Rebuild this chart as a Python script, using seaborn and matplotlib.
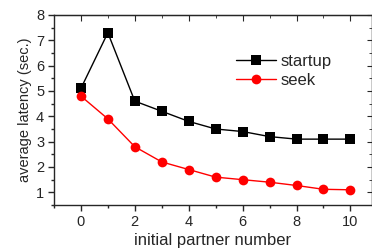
import pandas as pd
import seaborn as sns
import matplotlib.pyplot as plt
from matplotlib.ticker import MultipleLocator

partners = [0, 1, 2, 3, 4, 5, 6, 7, 8, 9, 10]
startup = [5.1, 7.3, 4.6, 4.2, 3.8, 3.5, 3.4, 3.2, 3.1, 3.1, 3.1]
seek = [4.8, 3.9, 2.8, 2.2, 1.9, 1.6, 1.5, 1.4, 1.27, 1.12, 1.1]

df = pd.DataFrame({
    "partners": partners * 2,
    "latency": startup + seek,
    "series": ["startup"] * len(partners) + ["seek"] * len(partners),
})

sns.set_style("ticks")
plt.rcParams["font.family"] = ["Liberation Sans", "DejaVu Sans"]

fig = plt.figure(figsize=(3.72, 2.5), dpi=100)
ax = fig.add_axes([0.145, 0.18, 0.855, 0.76])

sns.lineplot(data=df, x="partners", y="latency", hue="series", style="series",
             palette={"startup": "black", "seek": "red"},
             markers={"startup": "s", "seek": "o"}, dashes=False,
             markersize=7, markeredgewidth=0, linewidth=1, ax=ax)

ax.set_xlim(-1, 10.8)
ax.set_ylim(0.5, 8)
ax.xaxis.set_major_locator(MultipleLocator(2))
ax.xaxis.set_minor_locator(MultipleLocator(1))
ax.yaxis.set_major_locator(MultipleLocator(1))
ax.yaxis.set_minor_locator(MultipleLocator(0.5))
ax.tick_params(which="major", direction="out", length=4, width=1, labelsize=10.5, pad=3)
ax.tick_params(which="minor", direction="out", length=2, width=1)
ax.set_yticks([1, 2, 3, 4, 5, 6, 7, 8])

for s in ax.spines.values():
    s.set_linewidth(1)

top = ax.secondary_xaxis("top")
top.xaxis.set_major_locator(MultipleLocator(2))
top.xaxis.set_minor_locator(MultipleLocator(1))
top.tick_params(which="both", direction="in", labeltop=False)
top.tick_params(which="major", length=4)
top.tick_params(which="minor", length=2)
right = ax.secondary_yaxis("right")
right.yaxis.set_major_locator(MultipleLocator(1))
right.yaxis.set_minor_locator(MultipleLocator(0.5))
right.tick_params(which="both", direction="in", labelright=False)

ax.set_xlabel("initial partner number", fontsize=12, labelpad=3)
ax.set_ylabel("average latency (sec.)", fontsize=10.5, labelpad=3)

leg = ax.legend(loc="upper left", bbox_to_anchor=(0.55, 0.83), frameon=False,
                fontsize=12, handlelength=2.4, handletextpad=0.3, labelspacing=0.25,
                borderaxespad=0)

fig.savefig("out.png", dpi=100)
